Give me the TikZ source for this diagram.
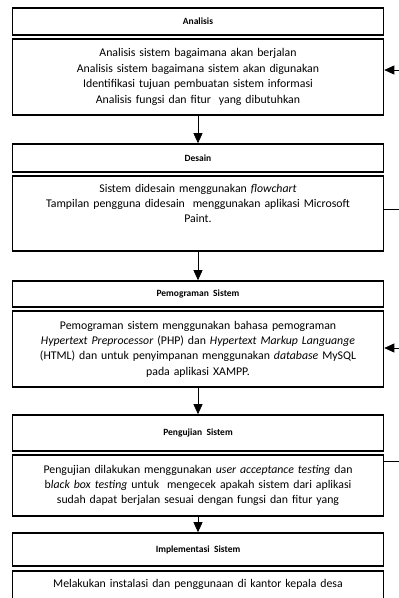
\documentclass[tikz,border=0pt]{standalone}
\usepackage{fontspec}
\setmainfont{Carlito}
\usetikzlibrary{arrows.meta}
\tikzset{
  judul/.style={draw, line width=1.6pt, minimum width=371pt, inner sep=0pt,
    font=\bfseries\fontsize{9.5}{11}\selectfont},
  isi/.style={draw, line width=1.6pt, minimum width=371pt, text width=362pt,
    inner xsep=4pt, inner ysep=0pt, align=center,
    font=\fontsize{11.8}{15.4}\selectfont},
  panah/.style={-{Triangle[width=9pt,length=10pt]}, line width=0.7pt},
  garis/.style={line width=0.7pt},
}

\begin{document}
\begin{tikzpicture}[x=1pt,y=-1pt]
  \useasboundingbox (0,0) rectangle (399,598);
  \clip (0,0) rectangle (399,598);
  % tahap 1
  \node[judul, minimum height=27pt] (analisis) at (198,21.5) {Analisis};
  \node[isi, minimum height=76pt] (analisisisi) at (198,77)
    {Analisis sistem bagaimana akan berjalan\\
     Analisis sistem bagaimana sistem akan digunakan\\
     Identifikasi tujuan pembuatan sistem informasi\\
     Analisis fungsi dan fitur\ \ yang dibutuhkan};
  % tahap 2
  \node[judul, minimum height=28pt] (desain) at (198,158) {Desain};
  \node[isi, minimum height=75pt] (desainisi) at (198,213.5)
    {Sistem didesain menggunakan \textit{flowchart}\\
     Tampilan pengguna didesain\ \ menggunakan aplikasi Microsoft\\
     Paint.\\ \strut};
  % tahap 3
  \node[judul, minimum height=26pt] (program) at (198,294) {Pemograman\ \ Sistem};
  \node[isi, minimum height=76pt] (programisi) at (198,349)
    {Pemograman sistem menggunakan bahasa pemograman\\
     \textit{Hypertext Preprocessor} (PHP) dan \textit{Hypertext Markup Languange}\\
     (HTML) dan untuk penyimpanan menggunakan \textit{database} MySQL\\
     pada aplikasi XAMPP.};
  % tahap 4
  \node[judul, minimum height=36pt] (uji) at (198,433) {Pengujian\ \ Sistem};
  \node[isi, minimum height=61pt] (ujiisi) at (198,485.5)
    {Pengujian dilakukan menggunakan \textit{user acceptance testing} dan\\
     b\textit{lack box testing} untuk\ \ mengecek apakah sistem dari aplikasi\\
     sudah dapat berjalan sesuai dengan fungsi dan fitur yang};
  % tahap 5
  \node[judul, minimum height=33pt] (implementasi) at (198,549.5) {Implementasi\ \ Sistem};
  \node[isi, anchor=north, inner ysep=8pt, text depth=25pt] (implementasiisi) at (198,570)
    {Melakukan instalasi dan penggunaan di kantor kepala desa};

  \draw[panah] (analisisisi.south) -- (desain.north);
  \draw[panah] (desainisi.south) -- (program.north);
  \draw[panah] (programisi.south) -- (uji.north);
  \draw[panah] (ujiisi.south) -- (implementasi.north);

  % umpan balik ke kanan
  \coordinate (balik1) at (410,70);
  \coordinate (balik2) at (410,209);
  \coordinate (balik3) at (410,348);
  \coordinate (balik4) at (410,461);
  \draw[panah] (balik1) -- (balik1 -| analisisisi.east);
  \draw[garis] (balik2 -| desainisi.east) -- (balik2);
  \draw[panah] (balik3) -- (balik3 -| programisi.east);
  \draw[garis] (balik4 -| ujiisi.east) -- (balik4);
\end{tikzpicture}
\end{document}
